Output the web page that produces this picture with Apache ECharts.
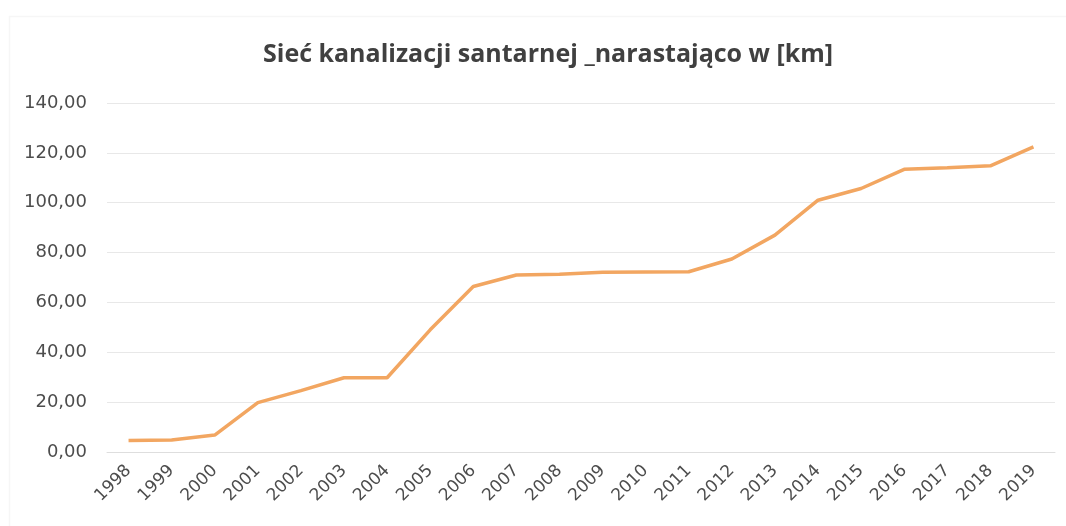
<!DOCTYPE html>
<html>
<head>
<meta charset="utf-8">
<script src="https://cdn.jsdelivr.net/npm/echarts@6/dist/echarts.min.js"></script>
<style>
  html, body { margin: 0; padding: 0; background: #fff; }
  #chart { width: 1066px; height: 526px; }
</style>
</head>
<body>
<div id="chart"></div>
<script>
const years = ['1998', '1999', '2000', '2001', '2002', '2003', '2004', '2005', '2006', '2007', '2008',
  '2009', '2010', '2011', '2012', '2013', '2014', '2015', '2016', '2017', '2018', '2019']
const lengthKm = [4.6, 4.8, 6.8, 19.8, 24.6, 29.8, 29.8, 49.0, 66.4, 71.0, 71.3,
  72.1, 72.2, 72.3, 77.4, 87.0, 101.0, 105.7, 113.4, 114.0, 114.8, 122.4]

const chart = echarts.init(document.getElementById('chart'))

const option = {
  backgroundColor: '#fff',
  animation: false,
  // faint chart frame, as in the scanned original
  graphic: [
    {
      type: 'rect',
      left: 7,
      top: 14,
      shape: { width: 1070, height: 530 },
      style: { fill: 'none', stroke: '#f6f6f6', lineWidth: 1.5 },
      silent: true
    }
  ],
  title: {
    text: 'Sieć kanalizacji santarnej _narastająco w [km]',
    left: 258,
    top: 37,
    textStyle: {
      fontFamily: 'Open Sans',
      fontSize: 25,
      fontWeight: 'bold',
      color: '#404040'
    }
  },
  grid: {
    left: 107,
    right: 11,
    top: 103,
    bottom: 74
  },
  xAxis: {
    type: 'category',
    data: years,
    boundaryGap: true,
    axisLine: { show: true, lineStyle: { color: '#dedede' } },
    axisTick: { show: false },
    axisLabel: {
      rotate: 45,
      margin: 16,
      fontFamily: 'DejaVu Sans',
      fontSize: 17,
      color: '#4d4d4d'
    }
  },
  yAxis: {
    type: 'value',
    min: 0,
    max: 140,
    interval: 20,
    axisLine: { show: false },
    axisTick: { show: false },
    axisLabel: {
      margin: 20,
      fontFamily: 'DejaVu Sans',
      fontSize: 18,
      color: '#4d4d4d',
      formatter: v => v.toFixed(2).replace('.', ',')
    },
    splitLine: { lineStyle: { color: '#e8e8e8', width: 1 } }
  },
  series: [
    {
      name: 'km',
      type: 'line',
      data: lengthKm,
      symbol: 'none',
      lineStyle: { color: '#f2a661', width: 3.5 },
      itemStyle: { color: '#f2a661' }
    }
  ]
}

chart.setOption(option)
</script>
</body>
</html>
